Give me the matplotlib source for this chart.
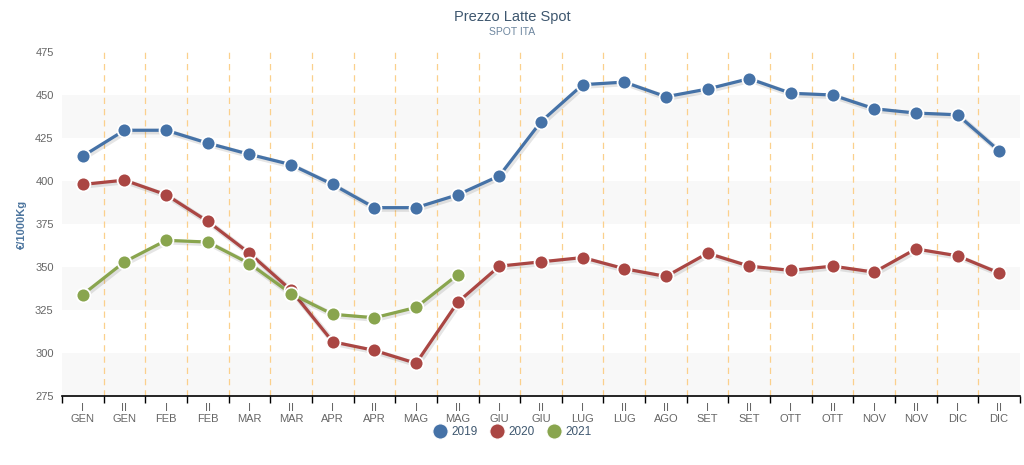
import matplotlib
matplotlib.use('Agg')
import matplotlib.pyplot as plt
import matplotlib.patheffects as pe
from matplotlib.lines import Line2D

plt.rcParams['font.family'] = ['Liberation Sans', 'DejaVu Sans']

# Half-month periods (no "I AGO" in the source)
halves = ['I', 'II', 'I', 'II', 'I', 'II', 'I', 'II', 'I', 'II', 'I', 'II',
          'I', 'II', 'II', 'I', 'II', 'I', 'II', 'I', 'II', 'I', 'II']
months = ['GEN', 'GEN', 'FEB', 'FEB', 'MAR', 'MAR', 'APR', 'APR', 'MAG', 'MAG',
          'GIU', 'GIU', 'LUG', 'LUG', 'AGO', 'SET', 'SET', 'OTT', 'OTT',
          'NOV', 'NOV', 'DIC', 'DIC']

prices_2019 = [414.5, 429.5, 429.5, 422, 415.5, 409.5, 398, 384.5, 384.5, 392,
               403, 434.5, 456, 457.5, 449, 453.5, 459.5, 451, 450, 442,
               439.5, 438.5, 417.5]
prices_2020 = [398, 400.5, 392, 376.5, 358, 336.5, 306.5, 301.5, 294, 329.5,
               350.5, 353, 355.5, 349, 344.5, 358, 350.5, 348, 350.5, 347,
               360.5, 356.5, 346.5]
prices_2021 = [334, 353, 365.5, 364.5, 352, 334.5, 322.5, 320.5, 326.5, 345.5]

series = [('2019', prices_2019, '#4572A7'),
          ('2020', prices_2020, '#AA4643'),
          ('2021', prices_2021, '#89A54E')]

fig = plt.figure(figsize=(10.24, 4.65), dpi=100)
ax = fig.add_axes([62 / 1024, 1 - 396 / 465, 958 / 1024, 344 / 465])

n = len(months)
x = list(range(n))

# alternating plot bands
for lo in (275, 325, 375, 425):
    ax.axhspan(lo, lo + 25, color='#f8f8f8', zorder=0, lw=0)

# dashed boundaries between periods
for b in range(n - 1):
    ax.axvline(b + 0.5, color='#FBD08C', lw=0.9, ls=(0, (5, 4)), zorder=1)

shadow = [pe.SimpleLineShadow(offset=(1, -1), alpha=0.1, shadow_color='black', linewidth=4),
          pe.Normal()]
for name, vals, col in series:
    ax.plot(range(len(vals)), vals, color=col, lw=2.3, zorder=3,
            path_effects=shadow)
    ax.plot(range(len(vals)), vals, ls='none', marker='o', ms=10, color=col,
            mec='white', mew=1.3, zorder=4)

ax.set_xlim(-0.5, n - 0.5)
ax.set_ylim(275, 475)
ax.set_yticks(range(275, 476, 25))
ax.set_xticks(x)
ax.set_xticklabels([f'{h}\n{m}' for h, m in zip(halves, months)],
                   color='#666666', fontsize=8, linespacing=1.1)
ax.tick_params(axis='x', length=0, pad=5)
ax.tick_params(axis='y', length=0, labelsize=8, labelcolor='#666666', pad=6)

# minor ticks on category boundaries
ax.set_xticks([b + 0.5 for b in range(-1, n)], minor=True)
ax.tick_params(axis='x', which='minor', length=5, color='black', width=1)

for s in ('top', 'right', 'left'):
    ax.spines[s].set_visible(False)
ax.spines['bottom'].set_color('black')
ax.spines['bottom'].set_linewidth(1.2)

ax.set_ylabel('€/1000Kg', color='#4d759e', fontsize=8, fontweight='bold', labelpad=6)

fig.text(0.5, 1 - 17 / 465, 'Prezzo Latte Spot', ha='center', va='center',
         color='#3E576F', fontsize=10.5)
fig.text(0.5, 1 - 32 / 465, 'SPOT ITA', ha='center', va='center',
         color='#6D869F', fontsize=7.5)

handles = [Line2D([], [], ls='none', marker='o', ms=11, color=c, mec='white', mew=0.8)
           for _, _, c in series]
leg = fig.legend(handles, [s[0] for s in series], loc='center',
                 bbox_to_anchor=(0.5, 1 - 432 / 465), ncol=3, frameon=False,
                 fontsize=8.5, handletextpad=0.3, columnspacing=1.0,
                 handlelength=1.3, borderpad=0)
for t in leg.get_texts():
    t.set_color('#3E576F')

fig.savefig('out.png', dpi=100)
